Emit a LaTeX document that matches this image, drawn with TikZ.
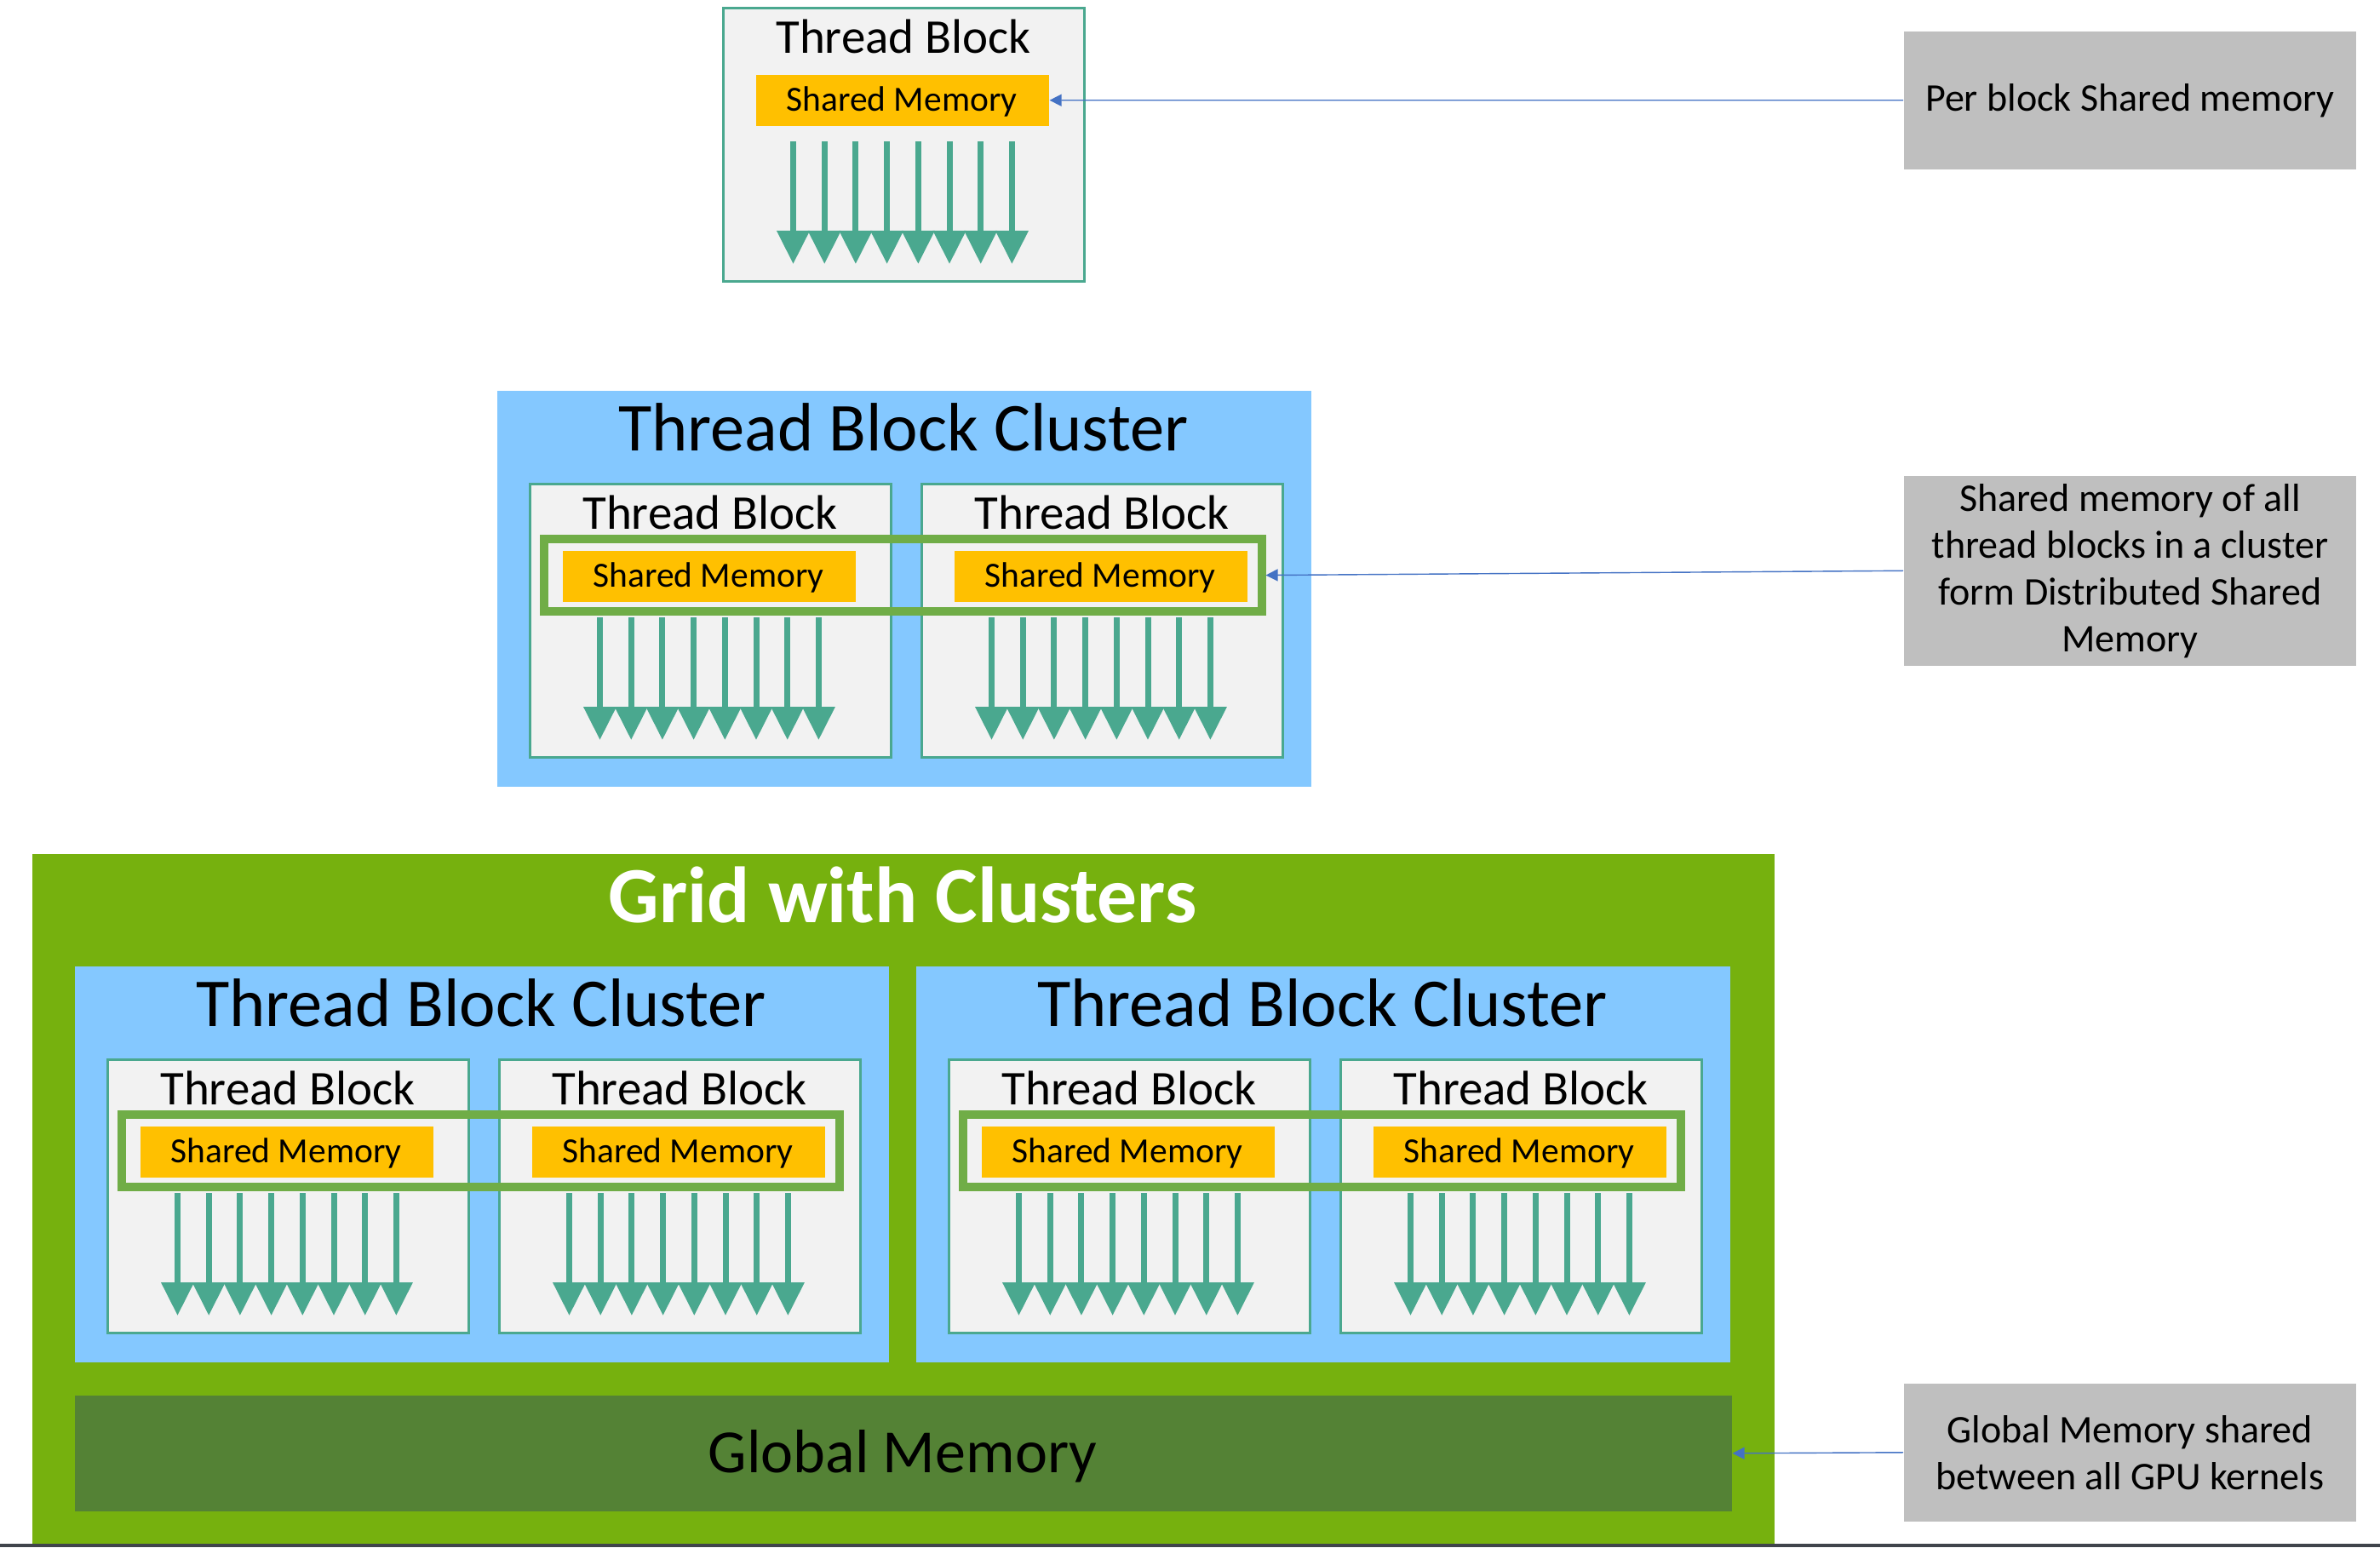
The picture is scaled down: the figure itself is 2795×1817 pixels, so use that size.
\documentclass[tikz,border=0pt]{standalone}
\usepackage{fontspec}
\setmainfont{Carlito}
\usetikzlibrary{arrows.meta}
\definecolor{tealc}{RGB}{74,168,143}
\definecolor{tbfill}{RGB}{242,242,242}
\definecolor{smfill}{RGB}{255,192,0}
\definecolor{clblue}{RGB}{132,200,255}
\definecolor{dsmgreen}{RGB}{112,173,71}
\definecolor{gridgreen}{RGB}{118,177,14}
\definecolor{gmemgreen}{RGB}{84,130,53}
\definecolor{lblgray}{RGB}{191,191,191}
\definecolor{connblue}{RGB}{68,114,196}
\definecolor{rulegray}{RGB}{64,68,75}
\tikzset{
  tblock/.style={draw=tealc, line width=0.03cm, fill=tbfill, inner sep=0pt, outer sep=0pt,
    minimum width=4.24cm, minimum height=3.21cm, anchor=north west},
  tbtitle/.style={anchor=base, inner sep=0pt, font=\fontsize{16.2pt}{19pt}\selectfont},
  smbox/.style={fill=smfill, inner sep=0pt, minimum width=3.44cm, minimum height=0.60cm, anchor=north west},
  smtext/.style={anchor=base, inner sep=0pt, font=\fontsize{11.8pt}{14pt}\selectfont},
  thr/.style={draw=tealc, line width=0.07cm, -{Triangle[length=0.39cm,width=0.37cm]}},
  clbox/.style={fill=clblue, inner sep=0pt, minimum width=9.56cm, minimum height=4.65cm, anchor=north west},
  cltitle/.style={anchor=base, inner sep=0pt, font=\fontsize{22.9pt}{27pt}\selectfont},
  dsm/.style={draw=dsmgreen, line width=0.1cm, inner sep=0pt, minimum width=8.42cm, minimum height=0.85cm, anchor=north west},
  gridbox/.style={fill=gridgreen, inner sep=0pt, minimum width=20.45cm, minimum height=8.10cm, anchor=north west},
  gridtitle/.style={anchor=base, inner sep=0pt, text=white, font=\fontsize{26.6pt}{31pt}\selectfont\bfseries},
  gmembox/.style={fill=gmemgreen, inner sep=0pt, minimum width=19.45cm, minimum height=1.36cm, anchor=north west},
  gmemtext/.style={anchor=base, inner sep=0pt, font=\fontsize{20.5pt}{24pt}\selectfont},
  lbl/.style={fill=lblgray, inner sep=0pt, minimum width=5.31cm, anchor=north west, align=center,
    font=\fontsize{13.1pt}{15.65pt}\selectfont},
  conn/.style={draw=connblue, line width=0.4pt, -{Triangle[length=4pt,width=4pt]}}
}
\newcommand{\threadblock}[3]{%
  \node[tblock] (#1) at (#2,#3) {};
  \node[tbtitle] (#1-t) at (#2+212,#3+53) {Thread Block};
  \node[smbox] (#1-sm) at (#2+38,#3+78) {};
  \node[smtext] (#1-st) at (#2+210,#3+121) {Shared Memory};
  \foreach \i in {0,...,7} {\draw[thr] (#2+82.5+\i*36.7,#3+157) -- (#2+82.5+\i*36.7,#3+301);}
}
\newcommand{\tbcluster}[3]{%
  \node[clbox] (#1) at (#2,#3) {};
  \node[cltitle] (#1-t) at (#2+478,#3+71) {Thread Block Cluster};
  \threadblock{#1-a}{#2+39}{#3+110}
  \threadblock{#1-b}{#2+499}{#3+110}
  \node[dsm] (#1-dsm) at (#2+51,#3+170) {};
}
\begin{document}
\begin{tikzpicture}[x=0.01cm,y=-0.01cm]
  \useasboundingbox[fill=white] (0,0) rectangle (2795,1817);
  % top single thread block
  \threadblock{tb0}{849}{9}
  % single cluster
  \tbcluster{c1}{583}{458}
  % grid with clusters
  \node[gridbox] (grid) at (37,1002) {};
  \node[gridtitle] (gridt) at (1060,1083) {Grid with Clusters};
  \tbcluster{c2}{87}{1134}
  \tbcluster{c3}{1075}{1134}
  \node[gmembox] (gmem) at (87,1638) {};
  \node[gmemtext] (gmemt) at (1060,1729) {Global Memory};
  % labels
  \node[lbl, minimum height=1.62cm] (lbl1) at (2235,36) {Per block Shared memory};
  \node[lbl, minimum height=2.23cm] (lbl2) at (2235,558) {Shared memory of all\\thread blocks in a cluster\\form Distributed Shared\\Memory};
  \node[lbl, minimum height=1.62cm] (lbl3) at (2235,1624) {Global Memory shared\\between all GPU kernels};
  % connectors
  \draw[conn] (lbl1.west) -- (tb0-sm.east);
  \draw[conn] (lbl2.west) -- (c1-dsm.east);
  \draw[conn] (lbl3.west) -- (gmem.east);
  % bottom rule
  \fill[rulegray] (0,1813) rectangle (2795,1817);
\end{tikzpicture}
\end{document}
